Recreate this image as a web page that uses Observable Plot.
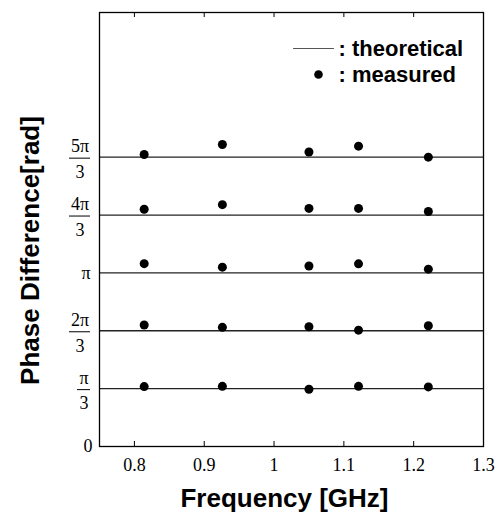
<!DOCTYPE html>
<html><head><meta charset="utf-8">
<script src="https://cdn.jsdelivr.net/npm/d3@7"></script>
<script src="https://cdn.jsdelivr.net/npm/@observablehq/plot@0.6"></script>
<style>body{margin:0;background:#fff} svg{display:block}</style>
</head><body><div id="chart"></div>
<script>
// ---- data ----
const frequencies = [0.814, 0.926, 1.05, 1.121, 1.221];           // GHz
const measuredPi3   = [1.084, 1.089, 1.037, 1.089, 1.079];         // rad, near π/3
const measured2Pi3  = [2.199, 2.157, 2.168, 2.105, 2.186];         // near 2π/3
const measuredPi    = [3.309, 3.246, 3.267, 3.305, 3.209];         // near π
const measured4Pi3  = [4.294, 4.377, 4.309, 4.309, 4.252];         // near 4π/3
const measured5Pi3  = [5.285, 5.466, 5.330, 5.435, 5.236];         // near 5π/3
const theoretical   = [Math.PI/3, 2*Math.PI/3, Math.PI, 4*Math.PI/3, 5*Math.PI/3];

const xTicks = [0.8, 0.9, 1, 1.1, 1.2, 1.3];
const xTickLabels = ["0.8", "0.9", "1", "1.1", "1.2", "1.3"];
const xInnerTicks = [0.8, 0.9, 1, 1.1, 1.2];

const yFracWideTicks = [2*Math.PI/3, 4*Math.PI/3, 5*Math.PI/3];
const yFracWideNum = ["2π", "4π", "5π"];
const yFracNarrowTicks = [Math.PI/3];
const yFracNarrowNum = ["π"];
const yFracDen = "3";
const yPlainTicks = [Math.PI];
const yPlainLabels = ["π"];
const yZeroTicks = [0];
const yZeroLabels = ["0"];

const xTitle = "Frequency [GHz]";
const yTitle = "Phase Difference[rad]";
const legendLine = ": theoretical";
const legendDot = ": measured";

// ---- table ----
const series = [measuredPi3, measured2Pi3, measuredPi, measured4Pi3, measured5Pi3];
const table = series.flatMap(s => s.map((v, i) => ({f: frequencies[i], phase: v})));

// ---- layout ----
const W = 498, H = 519;
const mt = 12, mr = 15, mb = 73, ml = 99;
const plotW = W - ml - mr, plotH = H - mt - mb;
const serif = "Liberation Serif";
const sans = "Liberation Sans";
const tickFont = 18;

const lineShape = {draw(ctx, l) { ctx.moveTo(0, 0); ctx.lineTo(0, -l); }};

const chart = Plot.plot({
  width: W, height: H,
  marginTop: mt, marginRight: mr, marginBottom: mb, marginLeft: ml,
  style: {fontFamily: serif, background: "#fff", color: "#000"},
  x: {domain: [0.75, 1.3]},
  y: {domain: [0, 2.5*Math.PI], axis: null},
  marks: [
    Plot.ruleY(theoretical, {y: d => d, stroke: "#222", strokeWidth: 1.3}),
    Plot.dot(table, {x: "f", y: "phase", r: 4.5, fill: "#000", stroke: null}),
    Plot.frame({stroke: "#000", strokeWidth: 1.3}),
    // inward ticks bottom and top
    Plot.ruleX(xInnerTicks, {x: d => d, insetTop: plotH - 5, stroke: "#000"}),
    Plot.ruleX(xInnerTicks, {x: d => d, insetBottom: plotH - 5, stroke: "#000"}),
    Plot.axisX(xTicks, {tickSize: 0, tickPadding: 12, fontSize: tickFont,
      tickFormat: d => xTickLabels[xTicks.indexOf(d)], label: null}),
    // y tick labels: fractions
    Plot.text(yFracWideTicks, {y: d => d, text: (d, i) => yFracWideNum[i], frameAnchor: "left",
      dx: -19.5, dy: -5, textAnchor: "middle", lineAnchor: "bottom", fontSize: tickFont, fontFamily: serif}),
    Plot.text(yFracWideTicks, {y: d => d, text: d => yFracDen, frameAnchor: "left",
      dx: -19.5, dy: 8, textAnchor: "middle", lineAnchor: "top", fontSize: tickFont, fontFamily: serif}),
    Plot.tickY(yFracWideTicks, {y: d => d, insetLeft: -30, insetRight: plotW + 9, dy: 1, stroke: "#000", strokeWidth: 1}),
    Plot.text(yFracNarrowTicks, {y: d => d, text: (d, i) => yFracNarrowNum[i], frameAnchor: "left",
      dx: -15.5, dy: -5, textAnchor: "middle", lineAnchor: "bottom", fontSize: tickFont, fontFamily: serif}),
    Plot.text(yFracNarrowTicks, {y: d => d, text: d => yFracDen, frameAnchor: "left",
      dx: -15.5, dy: 8, textAnchor: "middle", lineAnchor: "top", fontSize: tickFont, fontFamily: serif}),
    Plot.tickY(yFracNarrowTicks, {y: d => d, insetLeft: -22, insetRight: plotW + 9, dy: 1, stroke: "#000", strokeWidth: 1}),
    Plot.text(yPlainTicks, {y: d => d, text: (d, i) => yPlainLabels[i], frameAnchor: "left",
      dx: -9, textAnchor: "end", lineAnchor: "middle", fontSize: tickFont, fontFamily: serif}),
    Plot.text(yZeroTicks, {y: d => d, text: (d, i) => yZeroLabels[i], frameAnchor: "left",
      dx: -7, textAnchor: "end", lineAnchor: "middle", fontSize: tickFont, fontFamily: serif}),
    // axis titles
    Plot.text([xTitle], {text: d => d, frameAnchor: "bottom", dx: -7, dy: 52, textAnchor: "middle", lineAnchor: "middle",
      fontSize: 26, fontWeight: "bold", fontFamily: sans}),
    Plot.text([yTitle], {text: d => d, frameAnchor: "left", dx: -69, dy: 21, rotate: -90, textAnchor: "middle", lineAnchor: "middle",
      fontSize: 26, fontWeight: "bold", fontFamily: sans}),
    // legend
    Plot.vector([0], {frameAnchor: "top-left", dx: 194, dy: 36, length: 40, rotate: 90, anchor: "start",
      shape: lineShape, stroke: "#555", strokeWidth: 1}),
    Plot.dot([0], {frameAnchor: "top-left", dx: 219, dy: 62, r: 4.3, fill: "#000", stroke: null}),
    Plot.text([legendLine], {text: d => d, frameAnchor: "top-left", dx: 239, dy: 36, textAnchor: "start",
      lineAnchor: "middle", fontSize: 22, fontWeight: "bold", fontFamily: sans}),
    Plot.text([legendDot], {text: d => d, frameAnchor: "top-left", dx: 239, dy: 62, textAnchor: "start",
      lineAnchor: "middle", fontSize: 22, fontWeight: "bold", fontFamily: sans})
  ]
});
document.getElementById("chart").appendChild(chart);
</script>
</body></html>
